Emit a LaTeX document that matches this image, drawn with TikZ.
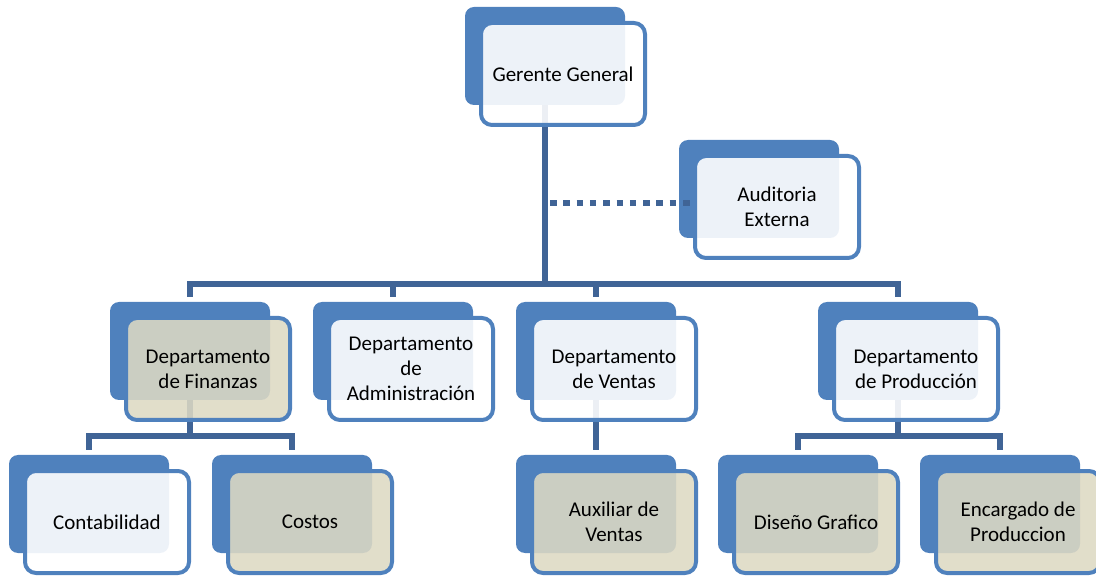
\documentclass[tikz,border=0pt]{standalone}
\usepackage{fontspec}
\setmainfont{Carlito}
\usepackage{tikz}
\usetikzlibrary{positioning,calc,backgrounds}
\definecolor{backblue}{RGB}{79,129,189}
\definecolor{lineblue}{RGB}{64,100,150}
\definecolor{beige}{RGB}{221,217,195}

\begin{document}
\begin{tikzpicture}[
  x=1pt, y=-1pt,
  back/.style={fill=backblue, rounded corners=9pt, minimum width=160pt, minimum height=98pt, inner sep=0pt},
  front/.style={draw=backblue, line width=4pt, fill=white, fill opacity=0.9, text opacity=1, rounded corners=11pt,
    minimum width=164pt, minimum height=102pt, align=center, inner sep=2pt, font=\fontsize{21}{25}\selectfont},
  tan/.style={front, fill=beige, fill opacity=0.88},
  conn/.style={draw=lineblue, line width=5.5pt},
  dotline/.style={draw=lineblue, line width=6.5pt, dash pattern=on 6.5pt off 6.8pt},
]
\useasboundingbox (0,0) rectangle (1096,577);

% Gerente
\node[back] (gg-b) at (545,56) {};
\node[front] (gg) at (563,74) {Gerente General};

% Auditoria
\node[back] (aud-b) at (759,189) {};
\node[front] (aud) at (777,207) {Auditoria\\Externa};

% Departamentos
\node[back] (fin-b) at (190,351) {};
\node[tan] (fin) at (208,369) {Departamento\\de Finanzas};
\node[back] (adm-b) at (393,351) {};
\node[front] (adm) at (411,369) {Departamento\\de\\Administración};
\node[back] (ven-b) at (596,351) {};
\node[front] (ven) at (614,369) {Departamento\\de Ventas};
\node[back] (pro-b) at (898,351) {};
\node[front] (pro) at (916,369) {Departamento\\de Producción};

% Third level
\node[back] (con-b) at (89,504) {};
\node[front] (con) at (107,522) {Contabilidad};
\node[back] (cos-b) at (292,504) {};
\node[tan] (cos) at (310,522) {Costos};
\node[back] (aux-b) at (596,504) {};
\node[tan] (aux) at (614,522) {Auxiliar de\\Ventas};
\node[back] (dis-b) at (798,504) {};
\node[tan] (dis) at (816,522) {Diseño Grafico};
\node[back] (enc-b) at (1000,504) {};
\node[tan] (enc) at (1018,522) {Encargado de\\Produccion};

% Connectors
\begin{scope}[on background layer]
\coordinate (bar) at (545,284);
\coordinate (fin-bar) at (190,436);
\coordinate (pro-bar) at (898,436);
\draw[conn] (gg-b.south) -- (bar);
\draw[conn] ([yshift=5pt]fin-b.north) |- (bar) -| ([yshift=5pt]pro-b.north);
\foreach \d in {adm,ven}
  \draw[conn] (\d-b.north |- bar) -- ([yshift=5pt]\d-b.north);
\draw[conn] (fin-b.south) -- (fin-bar);
\draw[conn] ([yshift=5pt]con-b.north) |- (fin-bar) -| ([yshift=5pt]cos-b.north);
\draw[conn] (ven-b.south) -- ([yshift=5pt]aux-b.north);
\draw[conn] (pro-b.south) -- (pro-bar);
\draw[conn] ([yshift=5pt]dis-b.north) |- (pro-bar) -| ([yshift=5pt]enc-b.north);
\end{scope}

% Dotted link
\coordinate (dot-start) at (550,203);
\draw[dotline] (dot-start) -- (dot-start -| aud.west);

\end{tikzpicture}
\end{document}
